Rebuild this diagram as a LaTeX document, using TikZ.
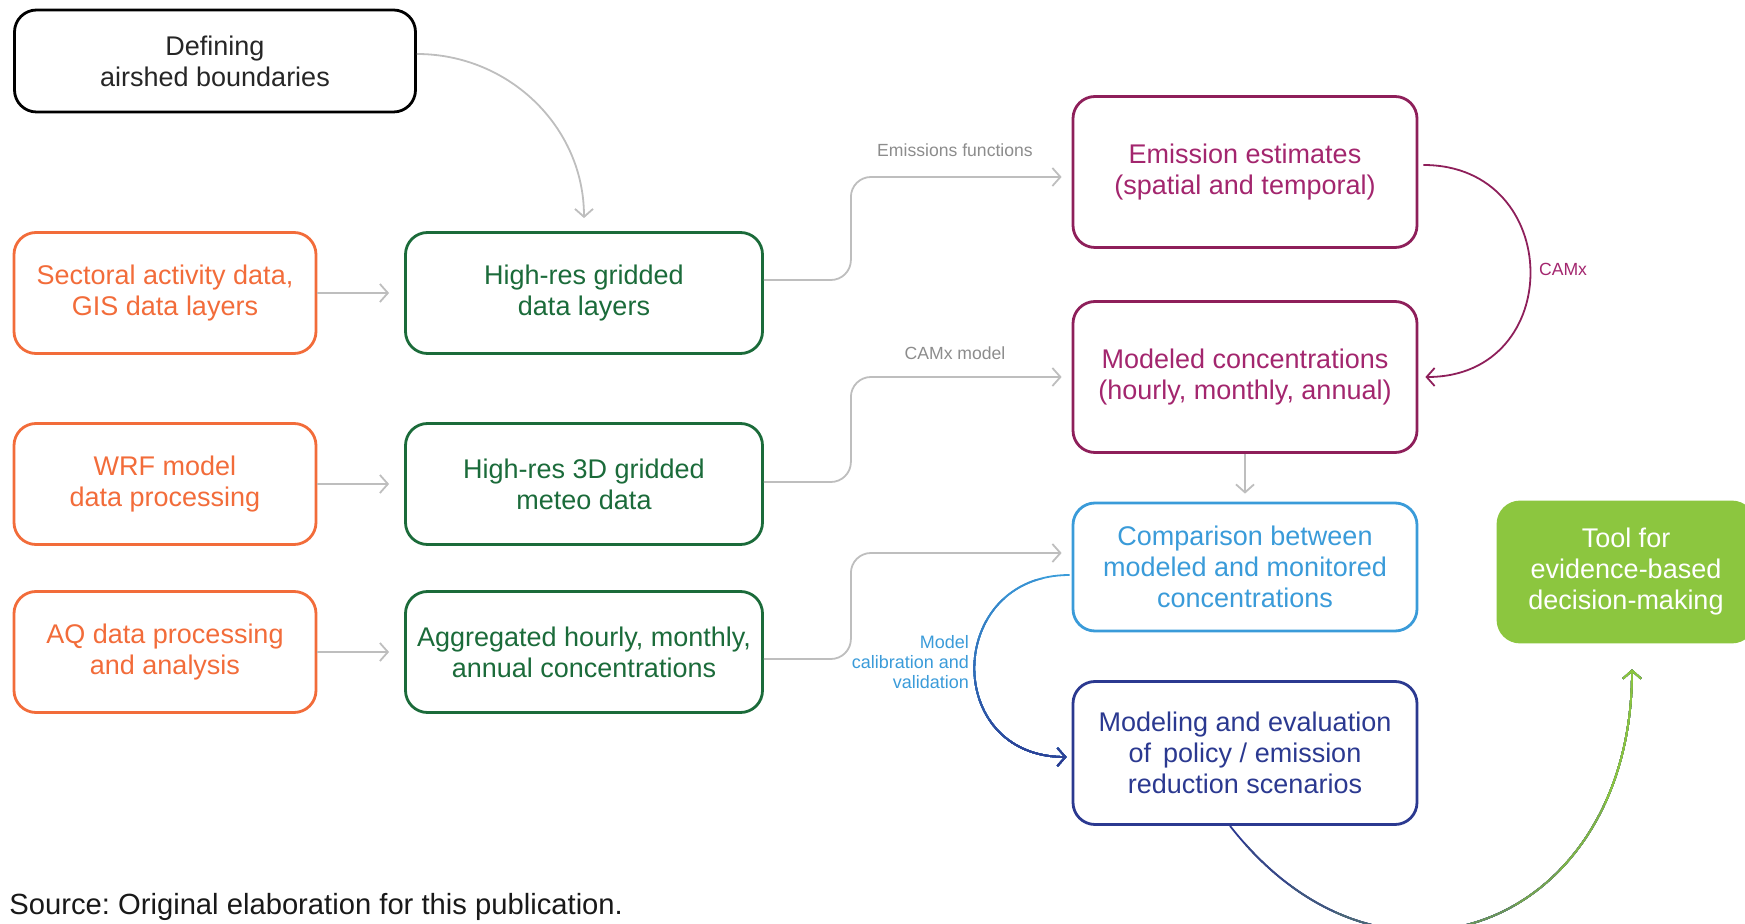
\documentclass[tikz,border=0pt]{standalone}
\usepackage{fontspec}
\setmainfont{Liberation Sans}
\usetikzlibrary{arrows.meta}
\definecolor{inputorange}{RGB}{242,108,58}
\definecolor{layergreen}{RGB}{27,107,58}
\definecolor{camxpurple}{RGB}{142,31,90}
\definecolor{camxtext}{RGB}{163,38,110}
\definecolor{compblue}{RGB}{58,155,217}
\definecolor{scenblue}{RGB}{43,57,144}
\definecolor{toolgreen}{RGB}{140,198,63}
\definecolor{linkgray}{RGB}{190,190,190}
\tikzset{
  procbox/.style={draw, rounded corners=11pt, line width=1.4pt, align=center,
    font=\fontsize{13.5}{15.5}\selectfont, inner sep=2pt},
  inbox/.style={procbox, draw=inputorange, text=inputorange, minimum width=151pt, minimum height=60.5pt},
  layerbox/.style={procbox, draw=layergreen, text=layergreen, minimum width=178.5pt, minimum height=60.5pt},
  link/.style={draw=linkgray, line width=0.9pt, -{Straight Barb[length=4pt,width=9pt]}},
  curvelink/.style={line width=0.9pt, -{Straight Barb[length=4pt,width=9pt]}},
  linklabel/.style={font=\fontsize{8.8}{10}\selectfont, text=black!45}
}
\frenchspacing
\begin{document}
\begin{tikzpicture}[x=0.5pt,y=-0.5pt]
\useasboundingbox (0,0) rectangle (1745,924);

\node[procbox, text=black!85, minimum width=200.5pt, minimum height=51pt] (bound) at (215,61) {Defining\\airshed boundaries};

\node[inbox] (sector) at (165,293) {Sectoral activity data,\\GIS data layers};
\node[inbox] (wrf) at (165,484) {WRF model\\data processing};
\node[inbox] (aq) at (165,652) {AQ data processing\\and analysis};

\node[layerbox] (grid) at (584,293) {High-res gridded\\data layers};
\node[layerbox] (meteo) at (584,484) {High-res 3D gridded\\meteo data};
\node[layerbox] (aggr) at (584,652) {Aggregated hourly, monthly,\\annual concentrations};

\node[procbox, draw=camxpurple, text=camxtext, minimum width=172pt, minimum height=75.5pt] (emis) at (1245,172) {Emission estimates\\(spatial and temporal)};
\node[procbox, draw=camxpurple, text=camxtext, minimum width=172pt, minimum height=75.5pt] (conc) at (1245,377) {Modeled concentrations\\(hourly, monthly, annual)};
\node[procbox, draw=compblue, text=compblue, minimum width=172pt, minimum height=64pt] (comp) at (1245,567) {Comparison between\\modeled and monitored\\concentrations};
\node[procbox, draw=scenblue, text=scenblue, minimum width=172pt, minimum height=71.5pt] (scen) at (1245,753) {Modeling and evaluation\\of\, policy / emission\\reduction scenarios};
\node[procbox, draw=toolgreen, fill=toolgreen, text=white, minimum width=128pt, minimum height=70pt] (tool) at (1626,572) {Tool for\\evidence-based\\decision-making};

\draw[link] ([yshift=3.5pt]bound.east) to[out=0,in=90] ([yshift=6.5pt]grid.north);
\draw[link, shorten >=7.5pt] (sector.east) -- (grid.west);
\draw[link, shorten >=7.5pt] (wrf.east) -- (meteo.west);
\draw[link, shorten >=7.5pt] (aq.east) -- (aggr.west);

\draw[link, rounded corners=10pt, shorten >=5pt] ([yshift=6.5pt]grid.east) -- ++(87,0) |- ([yshift=-2.5pt]emis.west);
\draw[link, rounded corners=10pt, shorten >=5pt] ([yshift=1pt]meteo.east) -- ++(87,0) |- (conc.west);
\draw[link, rounded corners=10pt, shorten >=5pt] ([yshift=-3.5pt]aggr.east) -- ++(87,0) |- ([yshift=7pt]comp.west);
\node[linklabel] (efunc) at (955,150) {Emissions functions};
\node[linklabel] (cmodel) at (955,353) {CAMx model};

\draw[curvelink, camxpurple] ([xshift=2.5pt,yshift=3.5pt]emis.east) to[out=0,in=0,looseness=1.7] ([xshift=3.5pt]conc.east);
\node[font=\fontsize{8.8}{10}\selectfont, text=camxtext] (camx) at (1563,269) {CAMx};

\draw[link, shorten >=4pt] (conc.south) -- (comp.north);

\foreach \k in {0,...,10}{
  \pgfmathtruncatemacro\pct{100-10*\k}
  \begin{scope}
    \clip (900,560+20*\k) rectangle (1100,800);
    \draw[curvelink, compblue!\pct!scenblue] ([xshift=-1pt,yshift=-4pt]comp.west) to[out=180,in=180,looseness=1.75] ([xshift=-2.5pt,yshift=-2pt]scen.west);
  \end{scope}
}
\node[anchor=east, align=right, font=\fontsize{9}{10}\selectfont, text=compblue] (calib) at (976,662) {Model\\calibration and\\validation};

\foreach \k in {0,...,9}{
  \pgfmathtruncatemacro\pct{100-11*\k}
  \begin{scope}
    \clip (1200+45*\k,600) rectangle (1745,960);
    \draw[curvelink, scenblue!\pct!toolgreen] ([xshift=-7.5pt]scen.south) to[out=-52,in=-90,looseness=1.5] ([xshift=3pt,yshift=-13pt]tool.south);
  \end{scope}
}

\node[anchor=base west, inner sep=0pt, font=\fontsize{14.6}{17}\selectfont, text=black!90] (source) at (9,914) {Source: Original elaboration for this publication.};
\end{tikzpicture}
\end{document}
